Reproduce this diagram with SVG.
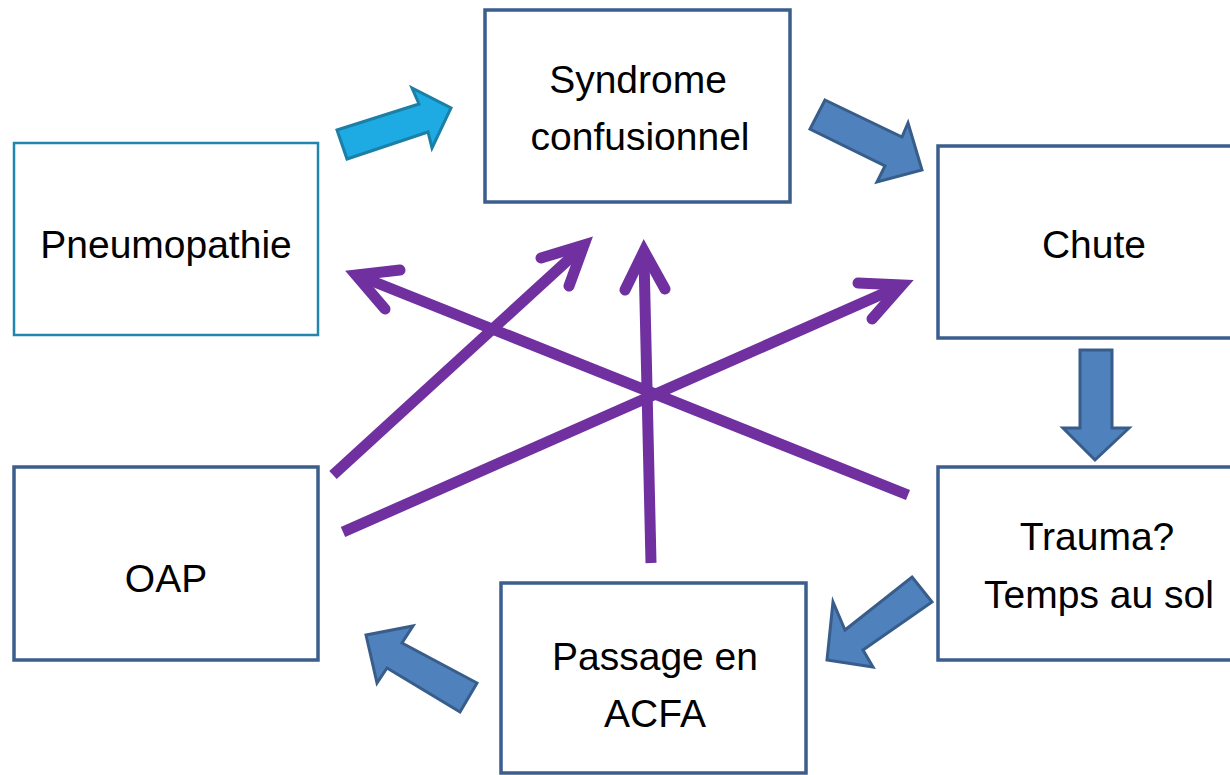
<svg xmlns="http://www.w3.org/2000/svg" width="1230" height="775" viewBox="0 0 1230 775">
<style>
.box{fill:#fff;stroke:#3b5e8c;stroke-width:3.5}
.box2{fill:#fff;stroke:#2086ad;stroke-width:2.5}
.lbl{font-family:"Liberation Sans",Arial,sans-serif;font-size:39px;fill:#000;text-anchor:middle}
.blk{fill:#4f81bd;stroke:#385d8a;stroke-width:3;stroke-linejoin:miter}
.cyan{fill:#1eaae2;stroke:#1b7fa6;stroke-width:3}
.pl{stroke:#7030a0;stroke-width:11;fill:none;stroke-linecap:butt}
.ph{stroke:#7030a0;stroke-width:11;fill:none;stroke-linecap:round;stroke-linejoin:miter;stroke-miterlimit:10}
</style>
<rect width="1230" height="775" fill="#fff"/>
<g id="pneumopathie"><rect class="box2" x="14" y="143" width="304" height="192"/><text class="lbl" x="166" y="258">Pneumopathie</text></g>
<g id="syndrome"><rect class="box" x="485" y="10" width="305" height="192"/><text class="lbl" x="638" y="93">Syndrome</text><text class="lbl" x="640" y="150">confusionnel</text></g>
<g id="chute"><rect class="box" x="938" y="146" width="310" height="192"/><text class="lbl" x="1094" y="258">Chute</text></g>
<g id="oap"><rect class="box" x="14" y="467" width="304" height="193"/><text class="lbl" x="166" y="592">OAP</text></g>
<g id="trauma"><rect class="box" x="938" y="467" width="310" height="193"/><text class="lbl" x="1097" y="550">Trauma?</text><text class="lbl" x="1099" y="608">Temps au sol</text></g>
<g id="acfa"><rect class="box" x="501" y="583" width="305" height="190"/><text class="lbl" x="655" y="670">Passage en</text><text class="lbl" x="655" y="727">ACFA</text></g>
<g id="connectors">
<polygon class="cyan" points="337,130 419,104 412,88 451,108 432,148 428,132 347,159"/>
<polygon class="blk" points="825,100 902,137 908,123 922,170 877,182 885,166 810,129"/>
<polygon class="blk" points="1080,350 1112,350 1112,428 1129,428 1095,460 1063,428 1080,428"/>
<polygon class="blk" points="912,577 932,602 863,650 873,667 827,660 833,602 845,630"/>
<polygon class="blk" points="366,635 413,626 402,643 477,683 460,712 387,668 377,683"/>
<line class="pl" x1="333" y1="475" x2="578" y2="251"/>
<polyline class="ph" points="541,258 584,245 569,286"/>
<line class="pl" x1="908" y1="495" x2="362" y2="277"/>
<polyline class="ph" points="400,270 356,275 385,309"/>
<line class="pl" x1="343" y1="532" x2="896" y2="288"/>
<polyline class="ph" points="858,283 902,285 872,319"/>
<line class="pl" x1="651" y1="563" x2="644" y2="258"/>
<polyline class="ph" points="625,290 644,251 665,289"/>
</g>
</svg>
